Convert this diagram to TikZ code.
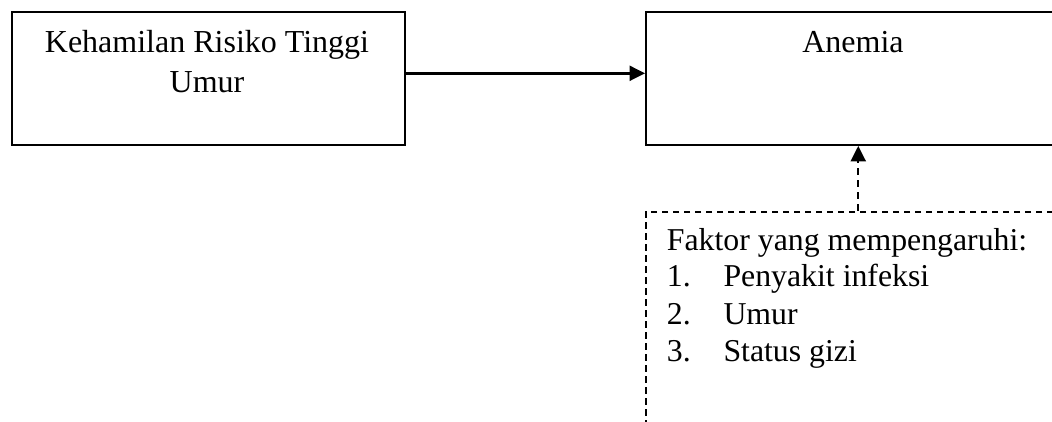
\documentclass[tikz,border=0pt]{standalone}
\usepackage{fontspec}
\setmainfont{Liberation Serif}
\usetikzlibrary{arrows.meta,calc}
\begin{document}
\begin{tikzpicture}[x=1pt,y=-1pt,
  box/.style={draw=black,line width=1.9pt,inner sep=0pt,anchor=north west},
  dbox/.style={draw=black,line width=1.9pt,inner sep=0pt,anchor=north west,dash pattern=on 6.5pt off 4.5pt},
  bigtxt/.style={inner sep=0pt,anchor=base,font=\fontsize{32}{40}\selectfont},
  listtxt/.style={inner sep=0pt,anchor=base west,font=\fontsize{31.8}{37}\selectfont},
  conn/.style={line width=2.4pt,-{Triangle[length=15.5pt,width=15pt]}},
  dconn/.style={line width=2.4pt,dash pattern=on 7pt off 5pt,-{Triangle[length=15.5pt,width=15pt]}}
]
\useasboundingbox (0,0) rectangle (1052,421);
\clip (0,0) rectangle (1052,421);
\fill[white] (0,0) rectangle (1052,421);
% boxes
\node[box,minimum width=393.3pt,minimum height=133.3pt] (risk) at (10.7,10.7) {};
\node[box,minimum width=416pt,minimum height=133.3pt] (anemia) at (645,10.7) {};
\node[dbox,minimum width=424.6pt,minimum height=240pt] (faktor) at (645,210.7) {};
% texts
\node[bigtxt] (t1) at (207,52) {Kehamilan Risiko Tinggi};
\node[bigtxt] (t2) at (207,92) {Umur};
\node[bigtxt] (t3) at (853,52) {Anemia};
\node[listtxt] (f0) at (666.7,250) {Faktor yang mempengaruhi:};
\node[listtxt] (n1) at (666.7,286.7) {1.};
\node[listtxt] (i1) at (723.3,286.7) {Penyakit infeksi};
\node[listtxt] (n2) at (666.7,324) {2.};
\node[listtxt] (i2) at (723.3,324) {Umur};
\node[listtxt] (n3) at (666.7,361.7) {3.};
\node[listtxt] (i3) at (723.3,361.7) {Status gizi};
% connectors
\coordinate (a0) at ($(risk.east)+(0,-5)$);
\draw[conn] (a0) -- (a0 -| anemia.west);
\draw[dconn] (faktor.north) -- (faktor.north |- anemia.south);
\end{tikzpicture}
\end{document}
